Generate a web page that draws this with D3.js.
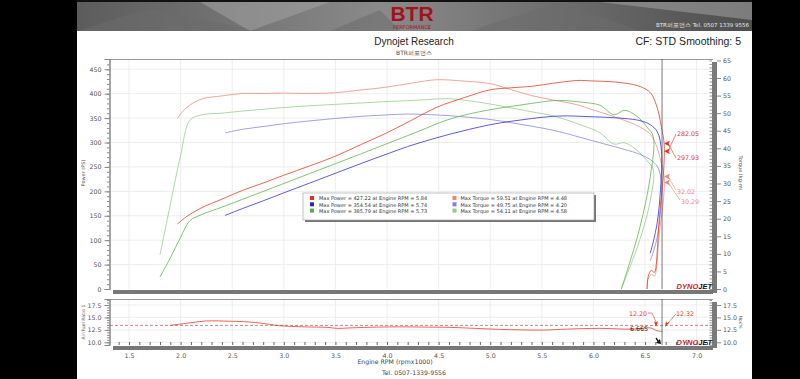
<!DOCTYPE html>
<html>
<head>
<meta charset="utf-8">
<script src="https://cdn.jsdelivr.net/npm/d3@7"></script>
<style>
  html, body { margin: 0; padding: 0; background: #fff; }
  svg { display: block; }
  text { font-family: "DejaVu Sans", Verdana, sans-serif; }
</style>
</head>
<body>
<svg id="chart" width="800" height="379"></svg>
<script>

// Data read from the dyno sheet (rpm in x1000, power in PS, torque in kg-m)
var redRpm    = [1.97, 2.05, 2.2, 2.4, 2.6, 2.8, 3.0, 3.25, 3.5, 3.75, 4.0, 4.25, 4.48, 4.75, 5.0, 5.2, 5.4, 5.6, 5.84, 6.0, 6.2, 6.4, 6.5, 6.56, 6.62, 6.66, 6.685, 6.68, 6.64, 6.6, 6.59, 6.56, 6.53, 6.52];
var redPower  = [133, 147, 166, 184, 202, 217, 233, 252, 272, 296, 320, 347, 372, 392, 408, 412, 415, 421, 427, 426, 424, 418, 410, 400, 370, 330, 298, 240, 150, 38, 34, 38, 25, 0];
var redTorque = [48.5, 51.4, 54.0, 54.9, 55.6, 55.6, 55.7, 55.6, 55.8, 56.6, 57.4, 58.6, 59.5, 59.1, 58.4, 56.7, 55.0, 53.8, 52.4, 50.9, 49.0, 46.8, 45.2, 43.7, 40.0, 35.5, 32.0, 25.7, 16.2, 4.1, 3.7, 4.1, 2.7, 0];

var blueRpm    = [2.43, 2.6, 2.8, 3.0, 3.25, 3.5, 3.75, 4.0, 4.2, 4.4, 4.6, 4.8, 5.0, 5.2, 5.4, 5.6, 5.74, 5.9, 6.1, 6.3, 6.45, 6.55, 6.62, 6.66, 6.65, 6.62, 6.58, 6.55];
var bluePower  = [150.6, 164.8, 180.6, 196.9, 216.9, 237.0, 257.1, 276.5, 291.7, 304.7, 316.6, 327.1, 336.5, 343.4, 349.1, 353.4, 354.5, 353.4, 351.8, 349.2, 344.9, 336.6, 321.7, 281.8, 204, 138.6, 96.5, 73.2];
var blueTorque = [44.4, 45.4, 46.2, 47.0, 47.8, 48.5, 49.1, 49.5, 49.75, 49.6, 49.3, 48.8, 48.2, 47.3, 46.3, 45.2, 44.2, 42.9, 41.3, 39.7, 38.3, 36.8, 34.8, 30.3, 22.0, 15.0, 10.5, 8.0];

var greenRpm    = [1.8, 1.9, 2.0, 2.09, 2.2, 2.4, 2.6, 2.8, 3.0, 3.25, 3.5, 3.75, 4.0, 4.3, 4.58, 4.8, 5.0, 5.2, 5.4, 5.6, 5.73, 5.9, 6.06, 6.2, 6.3, 6.42, 6.52, 6.58, 6.55, 6.45, 6.35, 6.27];
var greenPower  = [24.4, 63.7, 106, 140, 152, 167.6, 183.7, 199.8, 216.1, 236.4, 256.6, 277, 297.7, 322.4, 346, 358.6, 367.2, 373.9, 380, 385.5, 385.8, 382.2, 376.5, 356.7, 365.9, 354, 331.4, 312.4, 228.6, 126, 53, 0];
var greenTorque = [9.7, 24, 38, 48, 49.5, 50, 50.6, 51.1, 51.6, 52.1, 52.5, 52.9, 53.3, 53.7, 54.11, 53.5, 52.6, 51.5, 50.4, 49.3, 48.2, 46.4, 44.5, 41.2, 41.6, 39.5, 36.4, 34.0, 25, 14, 6, 0];

// Air/fuel ratio trace
var afrRpm = [1.9, 2.05, 2.25, 2.45, 2.65, 2.8, 2.95, 3.2, 3.42, 3.52, 3.65, 3.9, 4.12, 4.4, 4.61, 4.85, 5.09, 5.3, 5.51, 5.74, 6.06, 6.38, 6.55, 6.62, 6.67];
var afrRed = [13.4, 13.8, 14.3, 14.25, 14.1, 13.8, 13.35, 13.1, 13.0, 12.8, 12.9, 13.05, 13.1, 13.05, 13.0, 12.8, 12.6, 12.5, 12.45, 12.65, 12.8, 12.65, 12.9, 12.3, 12.2];
var afrTarget = 13.4;

// Axis ticks
var rpmTicks = [1.5, 2.0, 2.5, 3.0, 3.5, 4.0, 4.5, 5.0, 5.5, 6.0, 6.5, 7.0];
var powerTicks = [0, 50, 100, 150, 200, 250, 300, 350, 400, 450];
var torqueTicks = [0, 5, 10, 15, 20, 25, 30, 35, 40, 45, 50, 55, 60, 65];
var afrTicks = [10.0, 12.5, 15.0, 17.5];

// Legend rows
var legendLabels = [
    "Max Power = 427.22 at Engine RPM = 5.84",
    "Max Power = 354.54 at Engine RPM = 5.74",
    "Max Power = 385.79 at Engine RPM = 5.73",
    "Max Torque = 59.51 at Engine RPM = 4.48",
    "Max Torque = 49.75 at Engine RPM = 4.20",
    "Max Torque = 54.11 at Engine RPM = 4.58"
];

// Cursor readout
var cursorRpm = 6.665;
var cursorPower = [282.05, 297.93];
var cursorTorque = [32.02, 30.29];
var cursorAfr = [12.20, 12.32];

var colRed = "#e4321f", colBlue = "#2626d6", colGreen = "#55b046";
var colRedT = "#ee8676", colBlueT = "#8080e4", colGreenT = "#8fcb83";

var svg = d3.select("#chart");

// black side bars
svg.append("rect").attr("x", 0).attr("y", 0).attr("width", 77).attr("height", 379).attr("fill", "#000");
svg.append("rect").attr("x", 752).attr("y", 0).attr("width", 48).attr("height", 379).attr("fill", "#000");

// header banner
var defs = svg.append("defs");
var grad = defs.append("linearGradient").attr("id", "bann").attr("x1", 0).attr("x2", 1).attr("y1", 0).attr("y2", 0);
grad.append("stop").attr("offset", "0%").attr("stop-color", "#5c5c5c");
grad.append("stop").attr("offset", "45%").attr("stop-color", "#8a8a8a");
grad.append("stop").attr("offset", "100%").attr("stop-color", "#4e4e4e");
svg.append("rect").attr("x", 77).attr("y", 0).attr("width", 675).attr("height", 31).attr("fill", "url(#bann)");
svg.append("rect").attr("x", 77).attr("y", 0).attr("width", 675).attr("height", 2).attr("fill", "#111");
var shards = [
    [[77, 31], [150, 8], [260, 31]],
    [[200, 2], [330, 2], [250, 31]],
    [[470, 31], [560, 2], [640, 31]],
    [[600, 2], [752, 2], [752, 20]],
    [[330, 31], [380, 10], [400, 31]]
];
svg.append("g").selectAll("polygon").data(shards).enter().append("polygon")
    .attr("points", function (d) { return d.map(function (p) { return p.join(","); }).join(" "); })
    .attr("fill", function (d, i) { return i % 2 ? "#a3a3a3" : "#6c6c6c"; })
    .attr("opacity", 0.55);
svg.append("text").attr("x", 412).attr("y", 21).attr("text-anchor", "middle")
    .style("font-family", "Liberation Sans").style("font-weight", "bold").style("font-size", "21px")
    .attr("fill", "#a3121b").text("BTR");
svg.append("text").attr("x", 412).attr("y", 28.5).attr("text-anchor", "middle")
    .style("font-size", "5px").attr("fill", "#a3121b").text("PERFORMANCE");
svg.append("text").attr("x", 749).attr("y", 27).attr("text-anchor", "end")
    .style("font-size", "5.5px").attr("fill", "#e8e8e8").text("BTR퍼포먼스 Tel. 0507 1339 9556");

// titles
svg.append("text").attr("x", 414).attr("y", 45).attr("text-anchor", "middle")
    .style("font-family", "Liberation Sans").style("font-size", "10px").attr("fill", "#222").text("Dynojet Research");
svg.append("text").attr("x", 414).attr("y", 55).attr("text-anchor", "middle")
    .style("font-size", "6px").attr("fill", "#444").text("BTR퍼포먼스");
svg.append("text").attr("x", 741).attr("y", 45).attr("text-anchor", "end")
    .style("font-family", "Liberation Sans").style("font-size", "10.5px").attr("fill", "#222").text("CF: STD Smoothing: 5");

// scales
var x = d3.scaleLinear().domain([1.306, 7.149]).range([109, 712]);
var yP = d3.scaleLinear().domain([0, 471]).range([289, 59]);
var yT = d3.scaleLinear().domain([0, 65.4]).range([289, 59]);
var yA = d3.scaleLinear().domain([9.46, 18.7]).range([345, 299]);

// ---- main panel
var main = svg.append("g");

main.selectAll(".vgrid").data(rpmTicks).enter().append("line")
    .attr("x1", function (d) { return x(d); }).attr("x2", function (d) { return x(d); })
    .attr("y1", 59).attr("y2", 289).attr("stroke", "#e8e8e8").attr("stroke-width", 0.8);
main.selectAll(".hgrid").data(powerTicks.slice(1)).enter().append("line")
    .attr("x1", 109).attr("x2", 712)
    .attr("y1", function (d) { return yP(d); }).attr("y2", function (d) { return yP(d); })
    .attr("stroke", "#e8e8e8").attr("stroke-width", 0.8);

main.append("line").attr("x1", 109).attr("x2", 713).attr("y1", 59.5).attr("y2", 59.5).attr("stroke", "#999");

// left axis
var leftMinor = main.append("g").attr("transform", "translate(109.5,0)")
    .call(d3.axisLeft(yP).tickValues(d3.range(0, 461, 10)).tickSize(2.5).tickFormat(""));
var leftAxis = main.append("g").attr("transform", "translate(109.5,0)")
    .call(d3.axisLeft(yP).tickValues(powerTicks).tickSize(5).tickPadding(3));
[leftMinor, leftAxis].forEach(function (g) {
    g.select(".domain").attr("stroke", "#888");
    g.selectAll(".tick line").attr("stroke", "#888");
});
leftAxis.selectAll("text").style("font-size", "6.3px").attr("fill", "#555");

// right axis with grey bar
main.append("rect").attr("x", 712).attr("y", 62).attr("width", 5).attr("height", 231).attr("fill", "#7a7a7a");
var rightMinor = main.append("g").attr("transform", "translate(712,0)")
    .call(d3.axisLeft(yT).tickValues(d3.range(0, 66, 1)).tickSize(2.5).tickFormat(""));
var rightAxis = main.append("g").attr("transform", "translate(717,0)")
    .call(d3.axisRight(yT).tickValues(torqueTicks).tickSize(4).tickPadding(2));
rightMinor.select(".domain").remove();
rightAxis.select(".domain").remove();
rightMinor.selectAll(".tick line").attr("stroke", "#999");
rightAxis.selectAll(".tick line").attr("stroke", "#888");
rightAxis.selectAll("text").style("font-size", "6.3px").attr("fill", "#555");

// bottom grey bar
main.append("rect").attr("x", 113).attr("y", 290).attr("width", 600).attr("height", 4).attr("fill", "#777");

main.append("text").attr("transform", "translate(85,173) rotate(-90)").attr("text-anchor", "middle")
    .style("font-size", "5px").attr("fill", "#555").text("Power (PS)");
main.append("text").attr("transform", "translate(739,173) rotate(90)").attr("text-anchor", "middle")
    .style("font-size", "5px").attr("fill", "#555").text("Torque (kg-m)");

// curves
function makeLine(rpms, vals, ys) {
    return d3.line().curve(d3.curveCatmullRom.alpha(0.5))
        .x(function (d, i) { return x(rpms[i]); })
        .y(function (d) { return ys(d); })(vals);
}
var curves = [
    { rpm: greenRpm, vals: greenTorque, y: yT, c: colGreenT },
    { rpm: blueRpm, vals: blueTorque, y: yT, c: colBlueT },
    { rpm: redRpm, vals: redTorque, y: yT, c: colRedT },
    { rpm: greenRpm, vals: greenPower, y: yP, c: colGreen },
    { rpm: blueRpm, vals: bluePower, y: yP, c: colBlue },
    { rpm: redRpm, vals: redPower, y: yP, c: colRed }
];
main.selectAll(".curve").data(curves).enter().append("path")
    .attr("d", function (d) { return makeLine(d.rpm, d.vals, d.y); })
    .attr("fill", "none").attr("stroke", function (d) { return d.c; }).attr("stroke-width", 0.75);

// cursor
var cx = x(cursorRpm);
main.append("line").attr("x1", cx).attr("x2", cx).attr("y1", 59).attr("y2", 289).attr("stroke", "#555").attr("stroke-width", 0.8);

function arrowHead(g, px, py, col) {
    g.append("path").attr("d", "M" + px + "," + py + " l6,-3 l-1.5,3 l1.5,3 z").attr("fill", col);
}
var ptsP = [[cursorPower[0], 136], [cursorPower[1], 160]];
ptsP.forEach(function (p) {
    var py = yP(p[0]);
    main.append("line").attr("x1", cx + 6).attr("y1", py).attr("x2", 676).attr("y2", p[1] - 2).attr("stroke", colRed).attr("stroke-width", 0.6);
    arrowHead(main, cx + 2, py, colRed);
    main.append("text").attr("x", 677).attr("y", p[1]).style("font-size", "6.3px").attr("fill", colRed).text(p[0].toFixed(2));
});
var ptsT = [[cursorTorque[0], 194, 677], [cursorTorque[1], 204, 681]];
ptsT.forEach(function (p) {
    var py = yT(p[0]);
    main.append("line").attr("x1", cx + 6).attr("y1", py).attr("x2", p[2] - 1).attr("y2", p[1] - 4).attr("stroke", colRedT).attr("stroke-width", 0.6);
    arrowHead(main, cx + 2, py, colRedT);
    main.append("text").attr("x", p[2]).attr("y", p[1]).style("font-size", "6.3px").attr("fill", colRedT).text(p[0].toFixed(2));
});

function dynoLogo(g, px, py) {
    var t = g.append("text").attr("x", px).attr("y", py).attr("text-anchor", "end")
        .style("font-family", "Liberation Sans").style("font-size", "7.5px").style("font-weight", "bold").style("font-style", "italic");
    t.append("tspan").attr("fill", "#d42020").text("DYNO");
    t.append("tspan").attr("fill", "#111").text("JET");
}
dynoLogo(main, 712, 288.5);

// legend
var lg = main.append("g");
lg.append("rect").attr("x", 305).attr("y", 195).attr("width", 291).attr("height", 27).attr("fill", "#777");
lg.append("rect").attr("x", 303).attr("y", 193).attr("width", 291).attr("height", 27).attr("fill", "#fff").attr("stroke", "#999").attr("stroke-width", 0.6);
var legendCols = [colRed, colBlue, colGreen, colRedT, colBlueT, colGreenT];
lg.selectAll(".sw").data(legendLabels).enter().append("rect")
    .attr("x", function (d, i) { return i < 3 ? 310 : 452.5; })
    .attr("y", function (d, i) { return 196 + (i % 3) * 6.3; })
    .attr("width", 4).attr("height", 4)
    .attr("fill", function (d, i) { return legendCols[i]; });
lg.selectAll(".lt").data(legendLabels).enter().append("text")
    .attr("x", function (d, i) { return i < 3 ? 319 : 460.5; })
    .attr("y", function (d, i) { return 200.2 + (i % 3) * 6.3; })
    .style("font-size", "5px").attr("fill", "#333").text(function (d) { return d; });

// ---- AFR panel
var afr = svg.append("g");
afr.selectAll(".vgrid").data(rpmTicks).enter().append("line")
    .attr("x1", function (d) { return x(d); }).attr("x2", function (d) { return x(d); })
    .attr("y1", 299).attr("y2", 345).attr("stroke", "#e8e8e8").attr("stroke-width", 0.8);
afr.selectAll(".hgrid").data(afrTicks).enter().append("line")
    .attr("x1", 109).attr("x2", 712)
    .attr("y1", function (d) { return yA(d); }).attr("y2", function (d) { return yA(d); })
    .attr("stroke", "#e8e8e8").attr("stroke-width", 0.8);
afr.append("line").attr("x1", 109).attr("x2", 713).attr("y1", 299.5).attr("y2", 299.5).attr("stroke", "#999");

var afrMinor = afr.append("g").attr("transform", "translate(109.5,0)")
    .call(d3.axisLeft(yA).tickValues(d3.range(9.5, 18.6, 0.5)).tickSize(2.5).tickFormat(""));
var afrAxis = afr.append("g").attr("transform", "translate(109.5,0)")
    .call(d3.axisLeft(yA).tickValues(afrTicks).tickSize(5).tickPadding(3).tickFormat(d3.format(".1f")));
[afrMinor, afrAxis].forEach(function (g) {
    g.select(".domain").attr("stroke", "#888");
    g.selectAll(".tick line").attr("stroke", "#888");
});
afrAxis.selectAll("text").style("font-size", "6.3px").attr("fill", "#555");

afr.append("rect").attr("x", 712).attr("y", 302).attr("width", 5).attr("height", 46).attr("fill", "#7a7a7a");
var afrRMinor = afr.append("g").attr("transform", "translate(712,0)")
    .call(d3.axisLeft(yA).tickValues(d3.range(9.5, 18.6, 0.5)).tickSize(2.5).tickFormat(""));
var afrRight = afr.append("g").attr("transform", "translate(717,0)")
    .call(d3.axisRight(yA).tickValues(afrTicks).tickSize(4).tickPadding(2).tickFormat(d3.format(".1f")));
afrRMinor.select(".domain").remove();
afrRight.select(".domain").remove();
afrRMinor.selectAll(".tick line").attr("stroke", "#999");
afrRight.selectAll(".tick line").attr("stroke", "#888");
afrRight.selectAll("text").style("font-size", "6.3px").attr("fill", "#555");

afr.append("text").attr("transform", "translate(85,322) rotate(-90)").attr("text-anchor", "middle")
    .style("font-size", "4.6px").attr("fill", "#555").text("Air/Fuel Ratio 1");
afr.append("text").attr("transform", "translate(739,322) rotate(90)").attr("text-anchor", "middle")
    .style("font-size", "4.6px").attr("fill", "#555").text("Nox%");

// target line and AFR trace
afr.append("line").attr("x1", 110).attr("x2", 712).attr("y1", yA(afrTarget)).attr("y2", yA(afrTarget))
    .attr("stroke", "#b05050").attr("stroke-width", 0.7).attr("stroke-dasharray", "3,2");
afr.append("path").attr("d", makeLine(afrRpm, afrRed, yA))
    .attr("fill", "none").attr("stroke", colRed).attr("stroke-width", 0.75);

afr.append("line").attr("x1", cx).attr("x2", cx).attr("y1", 299).attr("y2", 345).attr("stroke", "#555").attr("stroke-width", 0.8);

// AFR readouts
afr.append("path").attr("d", "M648,313 L652,313 L657,324").attr("fill", "none").attr("stroke", colRed).attr("stroke-width", 0.6);
afr.append("path").attr("d", "M656,327 l-2,-6 l2,1.5 l2,-1.5 z").attr("fill", colRed);
afr.append("text").attr("x", 647).attr("y", 316).attr("text-anchor", "end").style("font-size", "6.3px").attr("fill", colRed).text(cursorAfr[0].toFixed(2));
afr.append("path").attr("d", "M676,314 L667,324").attr("fill", "none").attr("stroke", colRed).attr("stroke-width", 0.6);
afr.append("path").attr("d", "M665,327 l1,-6 l1,2 l2.5,-0.5 z").attr("fill", colRed);
afr.append("text").attr("x", 676).attr("y", 315.5).style("font-size", "6.3px").attr("fill", colRed).text(cursorAfr[1].toFixed(2));
afr.append("text").attr("x", 648).attr("y", 331).attr("text-anchor", "end").style("font-size", "6.3px").attr("fill", "#111").text(cursorRpm.toFixed(3));
afr.append("path").attr("d", "M661,344 l-5,-1 l1.5,-1.5 l-2,-3 l1,-1 l2,3 l1.5,-1.5 z").attr("fill", "#111");

dynoLogo(afr, 712, 345);

// x axis
afr.append("rect").attr("x", 113).attr("y", 346).attr("width", 600).attr("height", 4).attr("fill", "#777");
afr.append("g").attr("transform", "translate(0,345)")
    .call(d3.axisTop(x).tickValues(d3.range(1.4, 7.15, 0.1)).tickSize(3).tickFormat(""))
    .call(function (g) { g.select(".domain").remove(); g.selectAll("line").attr("stroke", "#666"); });
var xAxis = afr.append("g").attr("transform", "translate(0,350)")
    .call(d3.axisBottom(x).tickValues(rpmTicks).tickSize(0).tickPadding(4).tickFormat(d3.format(".1f")));
xAxis.select(".domain").remove();
xAxis.selectAll("text").style("font-size", "6.3px").attr("fill", "#555");

svg.append("text").attr("x", 395).attr("y", 364).attr("text-anchor", "middle")
    .style("font-size", "6.2px").attr("fill", "#444").text("Engine RPM (rpmx1000)");
svg.append("text").attr("x", 414).attr("y", 374.5).attr("text-anchor", "middle")
    .style("font-size", "6.2px").attr("fill", "#444").text("Tel. 0507-1339-9556");

</script>
</body>
</html>
